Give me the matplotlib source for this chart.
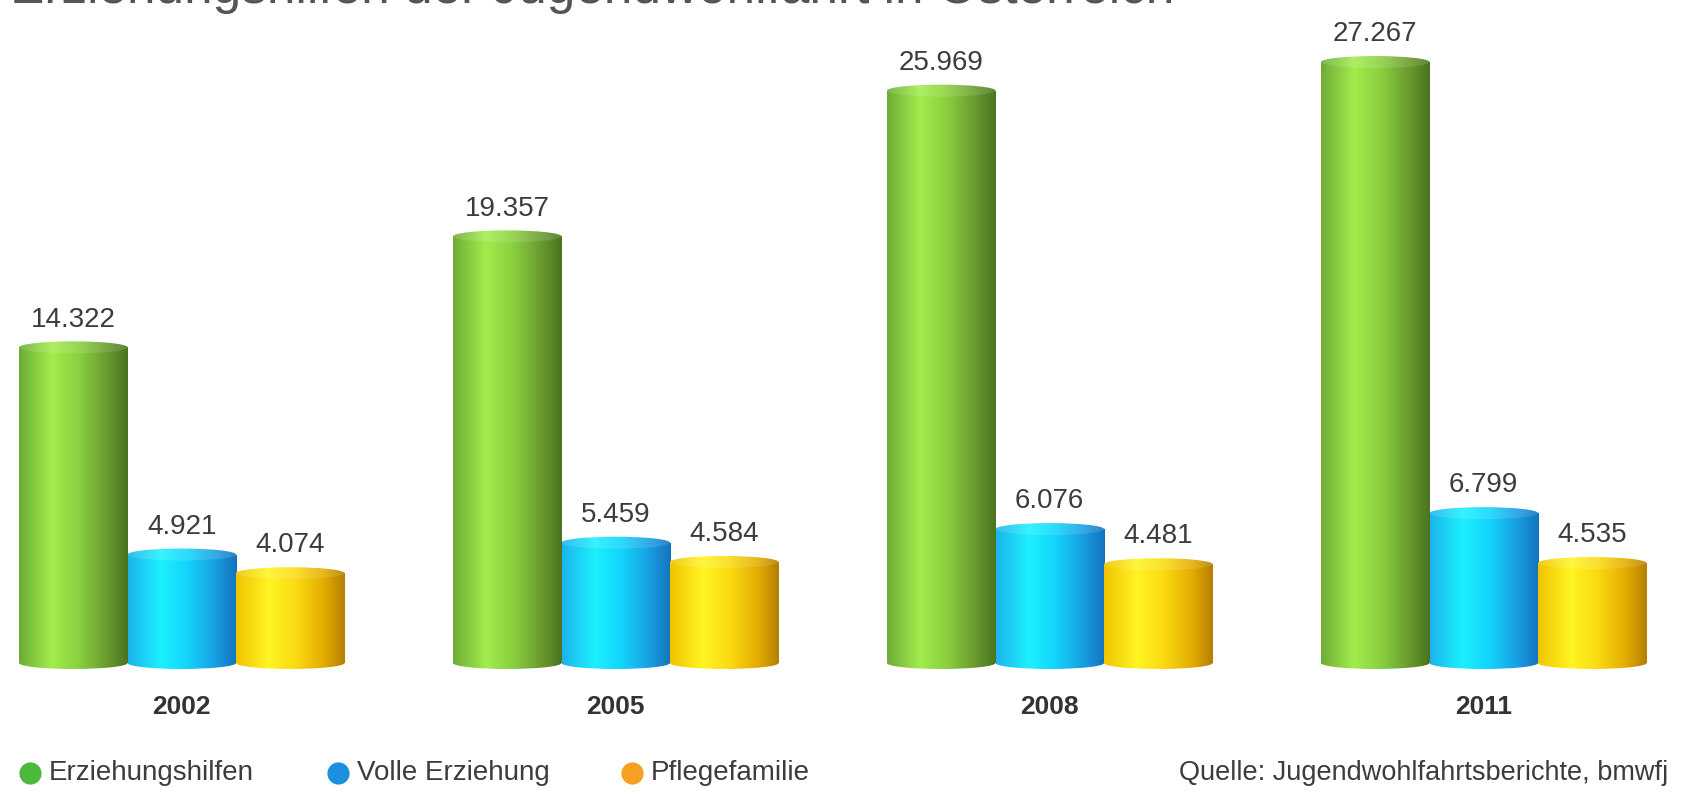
import numpy as np
import matplotlib.pyplot as plt
from matplotlib.patches import Ellipse
from matplotlib.lines import Line2D
from matplotlib.colors import to_rgb

# data
years = ['2002', '2005', '2008', '2011']
series_names = ['Erziehungshilfen', 'Volle Erziehung', 'Pflegefamilie']
erziehungshilfen = [14322, 19357, 25969, 27267]
volle_erziehung = [4921, 5459, 6076, 6799]
pflegefamilie = [4074, 4584, 4481, 4535]

title = 'Erziehungshilfen der Jugendwohlfahrt in Österreich'
source = 'Quelle: Jugendwohlfahrtsberichte, bmwfj'

# horizontal gradient stops (left -> right) for the cylinders
grad_stops = [0.0, 0.3, 0.55, 0.82, 1.0]
grad_colors = [
    ['#6eac36', '#a2ec4c', '#8ad040', '#68982e', '#4a7420'],   # green
    ['#1cb4ea', '#1cf0ff', '#12d4fa', '#1a9ae0', '#1274bc'],   # blue
    ['#f0c400', '#fff424', '#fada12', '#e2aa00', '#b47e00'],   # yellow
]
legend_colors = ['#4cb83c', '#1a90e0', '#f5a020']

plt.rcParams['font.family'] = ['Liberation Sans', 'DejaVu Sans']

W, H = 1682, 794
fig = plt.figure(figsize=(W / 100, H / 100), dpi=100)
ax = fig.add_axes([0, 0, 1, 1])
ax.set_axis_off()

PX_X = 108.5     # pixels per bar width
PX_Y = 0.02204   # pixels per value unit
BASE = 663       # baseline, pixels from top
x_lo = -0.5 - 19 / PX_X
xlim = (x_lo, x_lo + W / PX_X)
ylim = (-(H - BASE) / PX_Y, BASE / PX_Y)
cap_h = 12 / PX_Y


def gradient(colors, lighten=0.0, n=200):
    rgb = np.array([to_rgb(c) for c in colors])
    t = np.linspace(0, 1, n)
    arr = np.stack([np.interp(t, grad_stops, rgb[:, k]) for k in range(3)], axis=-1)
    arr = arr + (1 - arr) * lighten
    return arr[None, :, :]


values = [erziehungshilfen, volle_erziehung, pflegefamilie]
for j, vals in enumerate(values):
    xs = np.arange(len(years)) * 4 + j
    bars = ax.bar(xs, vals, width=1.0, color='none', edgecolor='none')
    body = gradient(grad_colors[j])
    top = gradient(grad_colors[j], lighten=0.12)
    for x, v, rect in zip(xs, vals, bars):
        x0, x1 = x - 0.5, x + 0.5
        im = ax.imshow(body, extent=(x0, x1, -cap_h, v), aspect='auto',
                       interpolation='bilinear', zorder=2)
        im.set_clip_path(rect)
        bot = Ellipse((x, 0), 1.0, cap_h, facecolor='none', edgecolor='none')
        ax.add_patch(bot)
        im2 = ax.imshow(body, extent=(x0, x1, -cap_h, cap_h), aspect='auto',
                        interpolation='bilinear', zorder=2)
        im2.set_clip_path(bot)
        cap = Ellipse((x, v), 1.0, cap_h, facecolor='none', edgecolor='none')
        ax.add_patch(cap)
        im3 = ax.imshow(top, extent=(x0, x1, v - cap_h, v + cap_h), aspect='auto',
                        interpolation='bilinear', zorder=3)
        im3.set_clip_path(cap)
        ax.annotate(f'{v:,}'.replace(',', '.'), (x, v), xytext=(0, 20),
                    textcoords='offset points', ha='center', va='center',
                    fontsize=20, color='#3c3c3c')

for i, yr in enumerate(years):
    ax.annotate(yr, (i * 4 + 1, 0), xytext=(0, -32), textcoords='offset points',
                ha='center', va='center', fontsize=19, fontweight='bold',
                color='#333333')

ax.set_xlim(*xlim)
ax.set_ylim(*ylim)


def fx(px):
    return px / W


def fy(py):
    return 1 - py / H


# legend
leg_y = 773
for name, col, cx in zip(series_names, legend_colors, [30, 338, 632]):
    fig.add_artist(Line2D([fx(cx)], [fy(leg_y)], marker='o', markersize=16,
                          markerfacecolor=col, markeredgecolor='none',
                          transform=fig.transFigure))
    fig.text(fx(cx + 19), fy(leg_y), name, ha='left', va='center',
             fontsize=20, color='#3c3c3c')

fig.text(fx(1668), fy(leg_y), source, ha='right', va='center',
         fontsize=19.5, color='#3c3c3c')

# title, cut off by the top edge as in the original screenshot
fig.text(fx(10), fy(3), title, ha='left', va='baseline', fontsize=37,
         color='#555555')

fig.savefig('out.png', dpi=100, facecolor='white')
